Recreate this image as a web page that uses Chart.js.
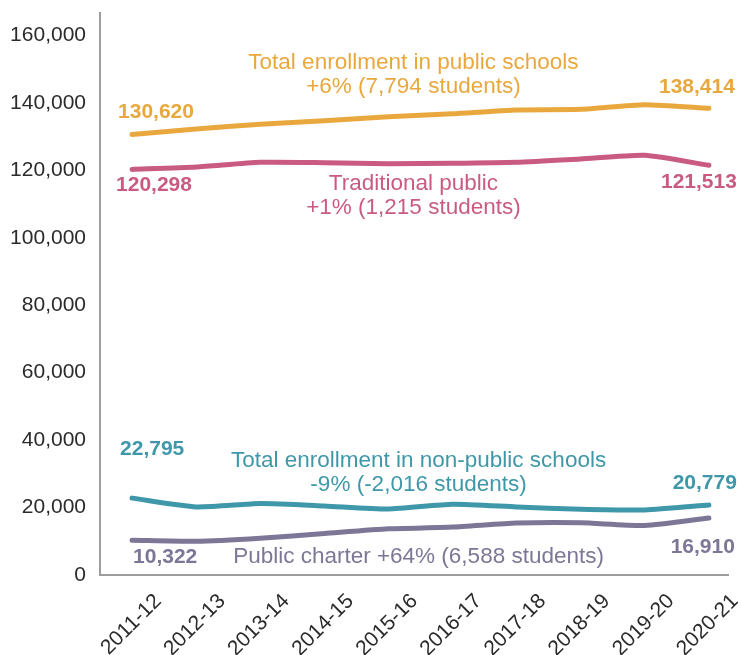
<!DOCTYPE html>
<html>
<head>
<meta charset="utf-8">
<script src="https://cdn.jsdelivr.net/npm/chart.js@4.4.1/dist/chart.umd.min.js"></script>
<style>
  body { margin: 0; background: #fff; }
  canvas { display: block; }
</style>
</head>
<body>
<canvas id="enrollmentChart" width="741" height="655"></canvas>
<script>
const years = ['2011-12', '2012-13', '2013-14', '2014-15', '2015-16', '2016-17', '2017-18', '2018-19', '2019-20', '2020-21'];

const totalPublic       = [130620, 132300, 133700, 134700, 135900, 136800, 137900, 138100, 139500, 138414];
const traditionalPublic = [120298, 121000, 122400, 122300, 122000, 122100, 122400, 123400, 124500, 121513];
const nonPublic         = [22795, 20200, 21200, 20500, 19600, 21000, 20200, 19500, 19300, 20779];
const publicCharter     = [10322, 10000, 10900, 12300, 13700, 14200, 15400, 15500, 14700, 16910];

const yTicks = [0, 20000, 40000, 60000, 80000, 100000, 120000, 140000, 160000];

const ORANGE = '#e9a83d';
const PINK = '#c95b83';
const TEAL = '#3f98a9';
const PURPLE = '#7e7696';

const FONT = '"Liberation Sans", Arial, Helvetica, sans-serif';

const series = [
  { label: 'Total enrollment in public schools', data: totalPublic, color: ORANGE },
  { label: 'Traditional public', data: traditionalPublic, color: PINK },
  { label: 'Total enrollment in non-public schools', data: nonPublic, color: TEAL },
  { label: 'Public charter', data: publicCharter, color: PURPLE }
];

// start / end value labels, offset in px from the point they describe
const valueLabels = [
  { ds: 0, i: 0, dx: -14, dy: -22, align: 'left' },
  { ds: 0, i: 9, dx: 26, dy: -21, align: 'right' },
  { ds: 1, i: 0, dx: -16, dy: 16, align: 'left' },
  { ds: 1, i: 9, dx: 28, dy: 17, align: 'right' },
  { ds: 2, i: 0, dx: -12, dy: -49, align: 'left' },
  { ds: 2, i: 9, dx: 28, dy: -22, align: 'right' },
  { ds: 3, i: 0, dx: 1, dy: 17, align: 'left' },
  { ds: 3, i: 9, dx: 26, dy: 29, align: 'right' }
];

// series notes, positioned in data space (x = year index, y = students)
const notes = [
  { lines: ['Total enrollment in public schools', '+6% (7,794 students)'], x: 4.39, y: 151900, color: ORANGE },
  { lines: ['Traditional public', '+1% (1,215 students)'], x: 4.39, y: 116100, color: PINK },
  { lines: ['Total enrollment in non-public schools', '-9% (-2,016 students)'], x: 4.47, y: 33800, color: TEAL },
  { lines: ['Public charter +64% (6,588 students)'], x: 4.47, y: 5300, color: PURPLE }
];

const labelPlugin = {
  id: 'seriesLabels',
  afterDatasetsDraw(chart) {
    const ctx = chart.ctx;
    const xs = chart.scales.x;
    const ys = chart.scales.y;
    ctx.save();
    ctx.textBaseline = 'middle';

    ctx.font = 'bold 21px ' + FONT;
    valueLabels.forEach(l => {
      const s = series[l.ds];
      const v = s.data[l.i];
      ctx.fillStyle = s.color;
      ctx.textAlign = l.align;
      ctx.fillText(v.toLocaleString('en-US'), xs.getPixelForValue(l.i) + l.dx, ys.getPixelForValue(v) + l.dy);
    });

    ctx.font = '22.5px ' + FONT;
    ctx.textAlign = 'center';
    notes.forEach(n => {
      ctx.fillStyle = n.color;
      const px = xs.getPixelForValue(n.x);
      const py = ys.getPixelForValue(n.y);
      n.lines.forEach((t, k) => ctx.fillText(t, px, py + k * 24));
    });
    ctx.restore();
  }
};

new Chart(document.getElementById('enrollmentChart'), {
  type: 'line',
  data: {
    datasets: series.map(s => ({
      label: s.label,
      data: s.data.map((v, i) => ({ x: i, y: v })),
      borderColor: s.color,
      backgroundColor: s.color,
      borderWidth: 5,
      borderCapStyle: 'round',
      borderJoinStyle: 'round',
      pointRadius: 0,
      tension: 0.2
    }))
  },
  options: {
    responsive: false,
    animation: false,
    layout: { padding: { top: 0, right: 9, left: 0, bottom: 0 } },
    plugins: {
      legend: { display: false },
      tooltip: { enabled: false }
    },
    scales: {
      x: {
        type: 'linear',
        min: -0.5,
        max: 9.31,
        afterBuildTicks: scale => { scale.ticks = years.map((_, i) => ({ value: i })); },
        afterFit: scale => { scale.height = 80; },
        grid: { display: false, drawTicks: false },
        border: { display: true, color: '#9d9d9d', width: 2 },
        ticks: {
          autoSkip: false,
          maxRotation: 45,
          minRotation: 45,
          padding: 14,
          labelOffset: 26,
          color: '#2b2b2b',
          font: { family: FONT, size: 21 },
          callback: v => years[v]
        }
      },
      y: {
        min: 0,
        max: 166800,
        afterBuildTicks: scale => { scale.ticks = yTicks.map(v => ({ value: v })); },
        afterFit: scale => { scale.width = 100; },
        // tick marks stay hidden; their length only spaces the labels from the axis
        grid: { display: false, drawTicks: true, tickLength: 14 },
        border: { display: true, color: '#9d9d9d', width: 2 },
        ticks: {
          padding: 0,
          color: '#2b2b2b',
          font: { family: FONT, size: 21 },
          callback: v => v.toLocaleString('en-US')
        }
      }
    }
  },
  plugins: [labelPlugin]
});
</script>
</body>
</html>
